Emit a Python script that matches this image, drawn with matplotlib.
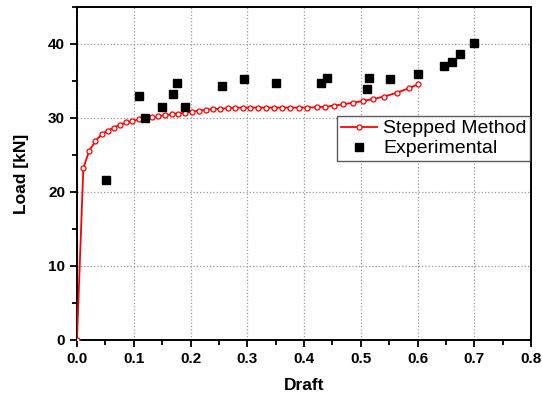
import numpy as np
import matplotlib
matplotlib.use("Agg")
import matplotlib.pyplot as plt
from matplotlib.ticker import MultipleLocator

plt.rcParams['font.family'] = ['Liberation Sans', 'DejaVu Sans']

# stepped method curve (draft, load)
step_x = [0.0, 0.0112, 0.0217, 0.0323, 0.0435, 0.054, 0.0652, 0.0758, 0.0869, 0.0975,
          0.1087, 0.1204, 0.132, 0.1433, 0.155, 0.1668, 0.1786, 0.190, 0.2026, 0.215,
          0.227, 0.240, 0.2525, 0.2655, 0.279, 0.292, 0.3054, 0.319, 0.333, 0.347,
          0.362, 0.376, 0.3906, 0.4047, 0.4222, 0.437, 0.4535, 0.469, 0.487, 0.5045,
          0.522, 0.5415, 0.563, 0.584, 0.601]
step_y = [0.0, 23.2, 25.6, 26.85, 27.8, 28.3, 28.7, 29.1, 29.4, 29.6,
          29.8, 29.95, 30.1, 30.2, 30.4, 30.5, 30.6, 30.7, 30.85, 31.0,
          31.1, 31.2, 31.25, 31.3, 31.35, 31.4, 31.4, 31.4, 31.4, 31.4,
          31.4, 31.4, 31.4, 31.4, 31.45, 31.5, 31.67, 31.85, 32.07, 32.3,
          32.57, 32.9, 33.4, 34.0, 34.55]

# experimental points
exp_x = [0.0505, 0.110, 0.120, 0.150, 0.170, 0.176, 0.190, 0.255, 0.295, 0.351,
         0.430, 0.440, 0.510, 0.515, 0.551, 0.600, 0.647, 0.661, 0.675, 0.700]
exp_y = [21.66, 33.0, 29.96, 31.5, 33.3, 34.7, 31.5, 34.3, 35.3, 34.7,
         34.7, 35.4, 33.9, 35.4, 35.3, 35.9, 37.0, 37.6, 38.6, 40.1]

fig = plt.figure(figsize=(5.42, 3.99), dpi=100)
ax = fig.add_axes([0.142, 0.148, 0.838, 0.8345])

ax.plot(step_x, step_y, color='red', lw=1.3, marker='o', ms=3.6,
        mfc='white', mec='red', mew=0.9, label='Stepped Method', zorder=3)
ax.plot(exp_x, exp_y, ls='none', marker='s', ms=5.8, color='black',
        label='Experimental', zorder=4)

ax.set_xlim(0, 0.8)
ax.set_ylim(0, 45)
ax.xaxis.set_major_locator(MultipleLocator(0.1))
ax.xaxis.set_minor_locator(MultipleLocator(0.05))
ax.yaxis.set_major_locator(MultipleLocator(10))
ax.yaxis.set_minor_locator(MultipleLocator(5))
ax.grid(True, which='major', ls=':', color='#999999', lw=0.9)
ax.tick_params(which='both', direction='out', top=False, right=False, width=1.3)
ax.tick_params(which='major', length=5, labelsize=11)
ax.tick_params(which='minor', length=3.5)
for lab in ax.get_xticklabels() + ax.get_yticklabels():
    lab.set_fontweight('bold')
for sp in ax.spines.values():
    sp.set_linewidth(1.4)

ax.set_xlabel('Draft', fontsize=12.5, fontweight='bold', labelpad=9)
ax.set_ylabel('Load [kN]', fontsize=12.5, fontweight='bold', labelpad=14)

leg = ax.legend(loc='upper left', bbox_to_anchor=(0.573, 0.673), fontsize=14,
                frameon=True, fancybox=False, edgecolor='#333333',
                borderpad=0.2, handlelength=1.85, handletextpad=0.3,
                labelspacing=0.12, borderaxespad=0)
leg.get_frame().set_linewidth(1.0)

fig.savefig('out.png', dpi=100)
